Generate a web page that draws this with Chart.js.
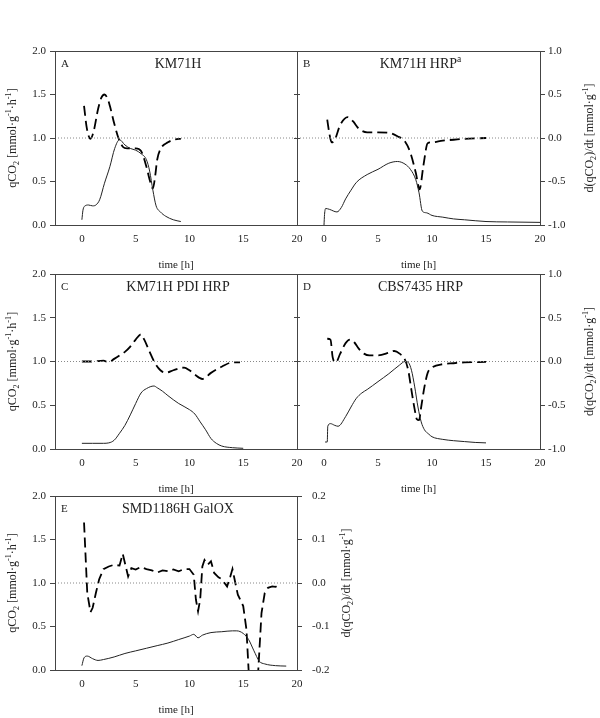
<!DOCTYPE html>
<html>
<head>
<meta charset="utf-8">
<script src="https://cdn.jsdelivr.net/npm/chart.js@4.4.1/dist/chart.umd.min.js"></script>
<style>
  html, body { margin: 0; padding: 0; background: #fff; }
  #wrap { position: relative; width: 600px; height: 718px; }
  #wrap canvas { position: absolute; left: 0; top: 0; }
</style>
</head>
<body>
<div id="wrap"></div>
<script>
// shared axes
const xMin = -2.5, xMax = 20;
const xTicks = [0, 5, 10, 15, 20];
const qTicks = [0, 0.5, 1, 1.5, 2];
const dTicks = [-1, -0.5, 0, 0.5, 1];
const dTicksE = [-0.2, -0.1, 0, 0.1, 0.2];
const refX = [xMin, xMax];
const refY = [0, 0];

// A  KM71H
const timeA = [0, 0.1, 0.3, 0.6, 1.0, 1.3, 1.65, 2.1, 2.6, 3.05, 3.5, 4.0, 4.5, 5.0, 5.5, 6.0, 6.3, 6.6, 6.9, 7.3, 7.8, 8.5, 9.2];
const qco2A = [0.06, 0.17, 0.22, 0.23, 0.22, 0.23, 0.29, 0.48, 0.67, 0.88, 0.98, 0.92, 0.88, 0.86, 0.82, 0.75, 0.62, 0.40, 0.22, 0.15, 0.10, 0.06, 0.04];
const dTimeA = [0.2, 0.45, 0.8, 1.1, 1.5, 1.8, 2.1, 2.4, 2.6, 3.0, 3.4, 3.8, 4.2, 5.0, 5.5, 6.0, 6.3, 6.6, 6.8, 7.0, 7.3, 8.0, 9.0, 9.2];
const dqA = [0.37, 0.12, -0.01, 0.08, 0.33, 0.46, 0.50, 0.45, 0.37, 0.17, 0.0, -0.1, -0.12, -0.12, -0.15, -0.33, -0.48, -0.58, -0.45, -0.25, -0.13, -0.05, -0.01, -0.01];

// B  KM71H HRP
const timeB = [0, 0.05, 0.15, 0.5, 1.2, 1.6, 2.0, 2.5, 3.0, 4.0, 5.0, 6.0, 6.8, 7.5, 8.0, 8.5, 8.8, 9.1, 9.5, 10, 11, 12, 13, 15, 17, 20];
const qco2B = [0.0, 0.12, 0.19, 0.18, 0.15, 0.2, 0.30, 0.40, 0.49, 0.58, 0.64, 0.71, 0.73, 0.70, 0.64, 0.52, 0.37, 0.16, 0.14, 0.11, 0.09, 0.07, 0.06, 0.04, 0.035, 0.03];
const dTimeB = [0.3, 0.5, 0.7, 1.0, 1.5, 2.2, 2.7, 3.2, 4.0, 5.0, 6.0, 6.8, 7.5, 8.0, 8.5, 8.85, 9.2, 9.6, 10, 11, 12, 13, 15];
const dqB = [0.21, 0.05, -0.05, -0.02, 0.15, 0.24, 0.19, 0.11, 0.065, 0.065, 0.06, 0.02, -0.04, -0.17, -0.40, -0.59, -0.32, -0.06, -0.05, -0.03, -0.02, -0.01, 0.0];

// C  KM71H PDI HRP
const timeC = [0, 1, 2, 2.5, 3, 3.5, 4, 4.5, 5, 5.5, 6, 6.7, 7, 7.5, 8, 9, 10, 10.5, 11, 11.5, 12, 12.5, 13, 14, 15];
const qco2C = [0.065, 0.065, 0.065, 0.07, 0.1, 0.18, 0.27, 0.39, 0.52, 0.64, 0.69, 0.72, 0.70, 0.66, 0.61, 0.52, 0.45, 0.40, 0.31, 0.22, 0.12, 0.065, 0.034, 0.015, 0.008];
const dTimeC = [0, 1, 2, 2.5, 3, 3.5, 4, 4.5, 5, 5.5, 5.8, 6.3, 6.8, 7.3, 7.8, 8.5, 9.5, 10, 10.5, 11.2, 12, 13, 14, 14.7];
const dqC = [0.0, 0.0, 0.01, -0.01, 0.03, 0.07, 0.11, 0.17, 0.25, 0.31, 0.25, 0.11, -0.02, -0.1, -0.13, -0.1, -0.07, -0.1, -0.15, -0.2, -0.13, -0.06, -0.01, -0.01];

// D  CBS7435 HRP
const timeD = [0.1, 0.3, 0.35, 0.6, 1.0, 1.3, 2.0, 2.5, 3.0, 3.5, 4.0, 5.0, 6.0, 7.0, 7.5, 7.8, 8.1, 8.4, 8.7, 9.0, 9.3, 9.7, 10, 11, 12, 13, 14, 15];
const qco2D = [0.08, 0.08, 0.26, 0.29, 0.27, 0.26, 0.37, 0.48, 0.58, 0.64, 0.68, 0.77, 0.86, 0.96, 1.0, 0.99, 0.90, 0.71, 0.48, 0.31, 0.22, 0.17, 0.14, 0.11, 0.095, 0.085, 0.075, 0.07];
const dTimeD = [0.3, 0.6, 0.8, 1.1, 1.5, 2.0, 2.4, 2.8, 3.2, 3.7, 4.2, 5.0, 6.0, 6.5, 7.0, 7.5, 7.8, 8.1, 8.4, 8.6, 8.8, 9.0, 9.3, 9.6, 10, 11, 12, 13, 15];
const dqD = [0.26, 0.25, 0.05, -0.01, 0.09, 0.21, 0.25, 0.22, 0.15, 0.09, 0.07, 0.07, 0.10, 0.12, 0.09, 0.02, -0.10, -0.33, -0.55, -0.66, -0.67, -0.52, -0.29, -0.13, -0.07, -0.03, -0.02, -0.01, -0.005];

// E  SMD1186H GalOX
const timeE = [0, 0.2, 0.5, 1.0, 1.5, 2.0, 3.0, 4.0, 5.0, 6.0, 7.0, 8.0, 9.0, 10.0, 10.4, 10.8, 11.2, 12.0, 13.0, 14.0, 14.4, 15.0, 15.5, 16.0, 16.5, 17.0, 18.0, 19.0];
const qco2E = [0.05, 0.14, 0.16, 0.13, 0.11, 0.12, 0.15, 0.19, 0.22, 0.25, 0.28, 0.31, 0.35, 0.39, 0.41, 0.37, 0.40, 0.43, 0.44, 0.45, 0.45, 0.42, 0.35, 0.22, 0.10, 0.07, 0.05, 0.045];
const dTimeE = [0.2, 0.5, 0.8, 1.0, 1.3, 1.6, 2.0, 2.5, 3.0, 3.5, 3.8, 4.0, 4.3, 4.6, 5.0, 5.5, 6.0, 6.5, 7.0, 7.5, 8.0, 8.5, 9.0, 9.5, 10.0, 10.4, 10.6, 10.8, 11.0, 11.2, 11.4, 11.7, 12.0, 12.3, 12.7, 13.0, 13.5, 13.8, 14.0, 14.2, 14.5, 15.0, 15.3, 15.5, 15.7, 16.2, 16.4, 16.7, 17.0, 17.3, 17.7, 18.0, 18.3];
const dqE = [0.139, -0.023, -0.067, -0.057, -0.023, 0.008, 0.032, 0.038, 0.042, 0.040, 0.067, 0.046, 0.015, 0.034, 0.031, 0.037, 0.032, 0.029, 0.024, 0.029, 0.027, 0.031, 0.027, 0.032, 0.032, 0.019, -0.038, -0.065, -0.038, 0.038, 0.053, 0.042, 0.05, 0.023, 0.013, 0.009, -0.008, 0.015, 0.032, 0.008, -0.027, -0.053, -0.107, -0.2, -0.35, -0.35, -0.2, -0.069, -0.023, -0.011, -0.008, -0.009, -0.004];

const serif = "'Liberation Serif', 'Times New Roman', serif";
const axisColor = '#444';
Chart.defaults.font.family = serif;
Chart.defaults.font.size = 11;
Chart.defaults.color = '#222';

const qTitle = [{t: 'qCO'}, {t: '2', sub: true}, {t: ' [mmol·g'}, {t: '-1', sup: true}, {t: '·h'}, {t: '-1', sup: true}, {t: ']'}];
const dTitle = [{t: 'd(qCO'}, {t: '2', sub: true}, {t: ')/dt [mmol·g'}, {t: '-1', sup: true}, {t: ']'}];

// area = [left, right, top, bottom] of the plot frame
const panels = [
  {letter: 'A', title: [{t: 'KM71H'}], area: [55, 297, 51, 225], time: timeA, q: qco2A, dTime: dTimeA, dq: dqA, left: true, right: false, dTicks: dTicks, rPad: 3},
  {letter: 'B', title: [{t: 'KM71H HRP'}, {t: 'a', sup: true}], area: [297, 540, 51, 225], time: timeB, q: qco2B, dTime: dTimeB, dq: dqB, left: false, right: true, dTicks: dTicks, rPad: 3},
  {letter: 'C', title: [{t: 'KM71H PDI HRP'}], area: [55, 297, 274, 449], time: timeC, q: qco2C, dTime: dTimeC, dq: dqC, left: true, right: false, dTicks: dTicks, rPad: 3},
  {letter: 'D', title: [{t: 'CBS7435 HRP'}], area: [297, 540, 274, 449], time: timeD, q: qco2D, dTime: dTimeD, dq: dqD, left: false, right: true, dTicks: dTicks, rPad: 3},
  {letter: 'E', title: [{t: 'SMD1186H GalOX'}], area: [55, 297, 496, 670], time: timeE, q: qco2E, dTime: dTimeE, dq: dqE, left: true, right: true, dTicks: dTicksE, rPad: 10, sharp: true}
];

function drawRich(ctx, parts, cx, cy, size, rotate) {
  ctx.save();
  ctx.translate(cx, cy);
  if (rotate) ctx.rotate(-Math.PI / 2);
  let w = 0;
  parts.forEach(p => {
    ctx.font = ((p.sub || p.sup) ? size * 0.68 : size) + 'px ' + serif;
    w += ctx.measureText(p.t).width;
  });
  let x = -w / 2;
  ctx.textAlign = 'left';
  ctx.textBaseline = 'middle';
  ctx.fillStyle = '#222';
  parts.forEach(p => {
    ctx.font = ((p.sub || p.sup) ? size * 0.68 : size) + 'px ' + serif;
    const dy = p.sub ? size * 0.3 : (p.sup ? -size * 0.35 : 0);
    ctx.fillText(p.t, x, dy);
    x += ctx.measureText(p.t).width;
  });
  ctx.restore();
}

const panelText = {
  id: 'panelText',
  afterDraw(chart, args, o) {
    const ctx = chart.ctx;
    const a = chart.chartArea;
    const l = Math.round(a.left), r = Math.round(a.right), t = Math.round(a.top), b = Math.round(a.bottom);
    ctx.save();
    ctx.strokeStyle = axisColor;
    ctx.lineWidth = 1;
    ctx.strokeRect(l + 0.5, t + 0.5, r - l, b - t);
    ctx.fillStyle = '#222';
    ctx.font = '11px ' + serif;
    ctx.textAlign = 'left';
    ctx.textBaseline = 'middle';
    ctx.fillText(o.letter, l + 6, t + 13);
    ctx.restore();
    const cx = (l + r) / 2;
    drawRich(ctx, o.title, cx + 2, t + 13, 14, false);
    drawRich(ctx, [{t: 'time [h]'}], cx, b + 40, 11, false);
    if (o.left) drawRich(ctx, qTitle, l - 42, (t + b) / 2, 12, true);
    if (o.right) drawRich(ctx, dTitle, r + 50, (t + b) / 2, 12, true);
  }
};

const wrap = document.getElementById('wrap');
const fix = v => (Math.abs(v) < 1e-9 ? 0 : v).toFixed(1);

panels.forEach(p => {
  const canvas = document.createElement('canvas');
  canvas.width = 600;
  canvas.height = 718;
  wrap.appendChild(canvas);
  const [L, R, T, B] = p.area;
  const dMin = p.dTicks[0], dMax = p.dTicks[p.dTicks.length - 1];
  const wLeft = p.left ? 55 : 20;
  const wRight = p.right ? 60 : 20;

  new Chart(canvas, {
    type: 'line',
    data: {
      datasets: [
        {
          data: refX.map((x, i) => ({x: x, y: refY[i]})),
          yAxisID: 'y2', borderColor: '#888', borderWidth: 1, borderDash: [1, 2],
          pointRadius: 0
        },
        {
          data: p.time.map((x, i) => ({x: x, y: p.q[i]})),
          yAxisID: 'y', borderColor: '#222', borderWidth: 1,
          pointRadius: 0, cubicInterpolationMode: 'monotone'
        },
        {
          data: p.dTime.map((x, i) => ({x: x, y: p.dq[i]})),
          yAxisID: 'y2', borderColor: '#000', borderWidth: 1.8, borderDash: [10, 5],
          pointRadius: 0, cubicInterpolationMode: p.sharp ? 'default' : 'monotone', tension: p.sharp ? 0 : 0.4
        }
      ]
    },
    options: {
      responsive: false,
      animation: false,
      events: [],
      layout: {padding: {left: L - wLeft, right: 600 - R - wRight, top: T, bottom: 718 - B - 40}},
      plugins: {
        legend: {display: false},
        tooltip: {enabled: false},
        panelText: {letter: p.letter, title: p.title, left: p.left, right: p.right}
      },
      scales: {
        x: {
          type: 'linear', min: xMin, max: xMax,
          afterBuildTicks: s => { s.ticks = xTicks.map(v => ({value: v})); },
          afterFit: s => { s.height = 40; },
          grid: {display: false, drawTicks: false},
          border: {display: false},
          ticks: {padding: 8, maxRotation: 0, autoSkip: false}
        },
        y: {
          position: 'left', min: 0, max: 2,
          afterBuildTicks: s => { s.ticks = qTicks.map(v => ({value: v})); },
          afterFit: s => { s.width = wLeft; },
          grid: {drawOnChartArea: false, tickLength: p.left ? 5 : 3, color: axisColor},
          border: {display: false},
          ticks: {display: p.left, padding: 4, callback: v => fix(v)}
        },
        y2: {
          position: 'right', min: dMin, max: dMax,
          afterBuildTicks: s => { s.ticks = p.dTicks.map(v => ({value: v})); },
          afterFit: s => { s.width = wRight; },
          grid: {drawOnChartArea: false, tickLength: p.right ? 5 : 3, color: axisColor},
          border: {display: false},
          ticks: {display: p.right, padding: p.rPad, callback: v => fix(v)}
        }
      }
    },
    plugins: [panelText]
  });
});
</script>
</body>
</html>
